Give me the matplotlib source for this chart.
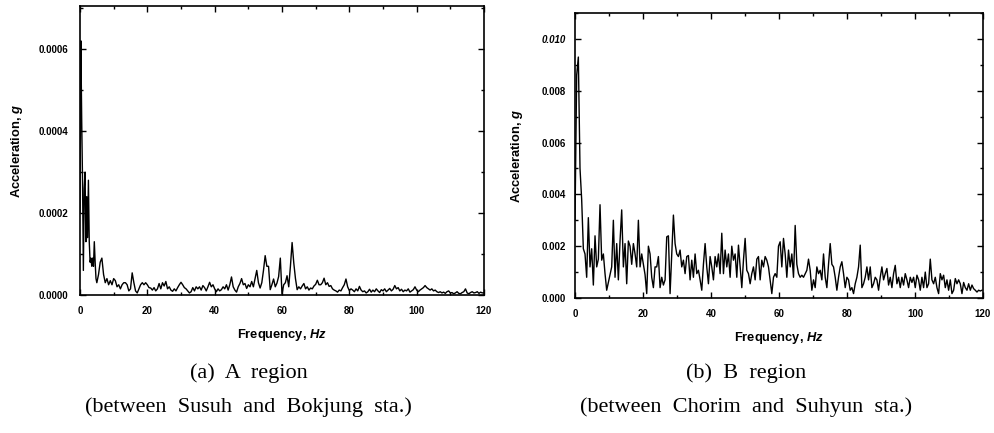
import numpy as np
import matplotlib
matplotlib.use("Agg")
import matplotlib.pyplot as plt
from matplotlib.ticker import MultipleLocator, FormatStrFormatter

plt.rcParams['font.family'] = ['Liberation Sans', 'DejaVu Sans']
plt.rcParams['mathtext.fontset'] = 'custom'
plt.rcParams['mathtext.rm'] = 'Liberation Sans:bold'
plt.rcParams['mathtext.it'] = 'Liberation Sans:italic:bold'
plt.rcParams['mathtext.bf'] = 'Liberation Sans:bold'

# ---- data, A region (units of 1e-5 g)
# 0 - 4.75 Hz, every 0.25 Hz
acc_a_low_1e5 = [20, 62, 43, 28, 6, 26, 30, 13, 24, 14,
                 28, 13, 8, 9, 7, 9, 7, 13, 8, 4]
# 5 - 120 Hz, every 0.5 Hz
acc_a_1e5 = [
    3, 5, 8, 9, 5, 3, 4, 2.5, 3.5, 2.5,
    4, 3.5, 2, 2.5, 1.5, 2.5, 3, 3, 2.5, 1,
    1.5, 5.4, 3, 1, 0.5, 1.5, 2.5, 3, 2.5, 3,
    2.5, 1.8, 1.7, 1.2, 1.8, 1, 1.5, 2.8, 1.5, 3,
    2.2, 3.3, 1.5, 2, 1.2, 0.9, 1.5, 1, 1.8, 2.5,
    3.1, 2.5, 1.8, 1.5, 1, 0.5, 0.8, 1.8, 1, 2,
    1.5, 2, 1.2, 2.3, 1.8, 1, 2, 3.1, 2, 2.5,
    1.5, 0.8, 1.5, 1.0, 1.3, 2.0, 1.5, 2.5, 1.2, 2.5,
    4.4, 2.0, 1.2, 0.7, 2.0, 2.8, 4.0, 2.5, 2.8, 1.6,
    2.5, 2.0, 3.3, 2.0, 4.0, 6.0, 3.0, 1.7, 3.0, 6.0,
    9.6, 7.0, 7.0, 1.3, 2.5, 3.9, 2.0, 2.9, 4.5, 9.0,
    0.2, 2.5, 3.0, 4.7, 2.0, 7.0, 12.8, 7.8, 4.0, 1.3,
    2.0, 1.5, 2.2, 2.8, 1.5, 2.0, 1.2, 1.7, 1.5, 2.2,
    2.6, 3.6, 2.5, 2.5, 3.0, 4.1, 2.5, 3.0, 2.1, 2.3,
    1.5, 1.2, 1.0, 0.7, 1.2, 1.0, 1.8, 2.5, 3.9, 2.0,
    1.1, 1.5, 1.2, 0.8, 1.5, 1.0, 2.1, 1.2, 0.8, 1.0,
    0.5, 0.8, 1.4, 0.7, 1.2, 0.8, 1.5, 1.0, 0.6, 1.3,
    1.0, 1.5, 0.8, 1.2, 1.6, 1.0, 1.4, 2.3, 1.5, 1.8,
    1.0, 1.4, 0.8, 1.2, 1.0, 1.5, 0.7, 1.0, 1.3, 2.0,
    1.2, 0.8, 1.2, 1.5, 1.8, 2.3, 1.8, 1.5, 1.2, 1.5,
    1.0, 1.2, 0.8, 0.6, 0.8, 0.5, 0.7, 0.4, 0.8, 1.0,
    0.5, 0.6, 0.3, 0.5, 0.8, 0.4, 0.3, 0.6, 0.8, 1.5,
    0.5, 0.3, 0.6, 0.8, 0.5, 0.6, 0.8, 0.4, 0.7, 0.5,
    0.6,
]

# ---- data, B region (units of 1e-4 g, evenly sampled from 0 to 119.7 Hz)
acc_b_1e4 = [
    30, 86, 93, 50, 38, 19, 17, 8, 31, 12,
    19, 5, 24, 12, 15, 36, 14.6, 17, 9.4, 3,
    6, 9, 12, 30, 8, 21, 7, 22, 34, 12,
    21, 5.5, 22, 20, 13, 21, 17, 12, 30, 12,
    17, 13, 9, 1.7, 20, 17, 8, 4, 12, 12,
    16, 4, 8, 5, 7, 23.6, 24, 1.7, 17, 32,
    21, 17, 16, 18.5, 12, 14.6, 9.4, 16, 16.4, 7,
    14.6, 8, 17, 9.4, 10.7, 7, 3, 13, 21, 12,
    5.5, 16, 12, 7, 16, 12, 17, 9.4, 25, 9.4,
    18.5, 12, 17, 8, 20, 14.6, 17, 8, 20.4, 12,
    4, 14.6, 23, 10.7, 9.4, 5.5, 9.4, 12, 7, 15,
    16, 7, 14.6, 12, 16, 14.6, 12, 7, 1.7, 8,
    9.4, 8, 20, 21.7, 12, 23, 17, 8, 18.5, 12,
    17, 8, 28, 13, 9.4, 8, 8.8, 8, 9.4, 10.7,
    15, 10.7, 3, 7, 4, 12, 9.4, 10.7, 7, 17,
    8, 4, 13, 21, 13, 12, 8, 3, 8, 12,
    14, 9.4, 4, 8, 7, 3, 4, 1.7, 5.5, 8,
    12, 20.4, 4, 5.5, 8, 12, 7, 12, 4, 5.5,
    8, 7, 3, 8, 12, 7, 9.4, 11.4, 5, 8,
    4, 9.4, 12.6, 5.5, 8, 4, 8, 5, 9.4, 7,
    4, 8, 6, 8, 4, 8.8, 7, 3, 8, 4,
    10, 4, 5.5, 15, 7, 5.5, 8, 4, 1.7, 9.4,
    7, 8.8, 4, 7, 3, 7, 1.7, 3, 7.5, 5.5,
    7, 5.5, 1.7, 6, 4, 3, 5.5, 3, 5, 3.6,
    3, 2.3, 3, 2.7, 3,
]
freq_b_max = 119.7

xticks = [0, 20, 40, 60, 80, 100, 120]
yticks_a = [0.0, 0.0002, 0.0004, 0.0006]
yticks_b = [0.0, 0.002, 0.004, 0.006, 0.008, 0.010]
xlabel = 'Frequency, $Hz$'
ylabel = 'Acceleration, $g$'
captions = [('(a)  A  region', '(between  Susuh  and  Bokjung  sta.)'),
            ('(b)  B  region', '(between  Chorim  and  Suhyun  sta.)')]

freq_a = np.concatenate([np.arange(len(acc_a_low_1e5)) * 0.25,
                         5.0 + np.arange(len(acc_a_1e5)) * 0.5])
acc_a = np.concatenate([acc_a_low_1e5, acc_a_1e5]) * 1e-5
acc_b = np.array(acc_b_1e4) * 1e-4
freq_b = np.linspace(0, freq_b_max, len(acc_b))

W, H = 995, 433
fig = plt.figure(figsize=(W / 100, H / 100), dpi=100)

def px_axes(x0, y0, x1, y1):
    return fig.add_axes([x0 / W, 1 - y1 / H, (x1 - x0) / W, (y1 - y0) / H])

ax_a = px_axes(80, 6, 484, 295)
ax_b = px_axes(575, 13, 983, 298)

def style(ax, yticks, ymax, yminor, fmt, ypad, ylabelpad):
    ax.set_xlim(0, 120)
    ax.set_ylim(0, ymax)
    ax.set_xticks(xticks)
    ax.xaxis.set_minor_locator(MultipleLocator(10))
    ax.set_yticks(yticks)
    ax.yaxis.set_minor_locator(MultipleLocator(yminor))
    ax.yaxis.set_major_formatter(FormatStrFormatter(fmt))
    ax.tick_params(which='both', direction='in', top=True, right=True,
                   width=1.0, labelsize=7)
    ax.tick_params(axis='x', which='both', pad=8)
    ax.tick_params(axis='y', which='both', pad=ypad)
    ax.tick_params(which='major', length=4)
    ax.tick_params(which='minor', length=2.5)
    for lab in ax.get_xticklabels() + ax.get_yticklabels():
        lab.set_fontweight('bold')
    for s in ax.spines.values():
        s.set_linewidth(1.2)
    ax.set_xlabel(xlabel, fontsize=9.3, fontweight='bold', labelpad=7.5)
    ax.set_ylabel(ylabel, fontsize=9.3, fontweight='bold', labelpad=ylabelpad)

ax_a.plot(freq_a, acc_a, color='black', lw=1.0)
style(ax_a, yticks_a, 0.000705, 0.0001, '%.4f', 8.5, 10)
ax_b.plot(freq_b, acc_b, color='black', lw=1.0)
style(ax_b, yticks_b, 0.0110, 0.001, '%.3f', 6.5, 12)
# the top label in panel (b) is printed in italics in the original
ax_b.get_yticklabels()[-1].set_style('italic')

for xc, (c1, c2) in zip([0.25, 0.75], captions):
    fig.text(xc, 1 - 373 / H, c1, ha='center', va='center',
             fontsize=16, family='Liberation Serif')
    fig.text(xc, 1 - 407 / H, c2, ha='center', va='center',
             fontsize=16, family='Liberation Serif')

fig.savefig('out.png', dpi=100)
